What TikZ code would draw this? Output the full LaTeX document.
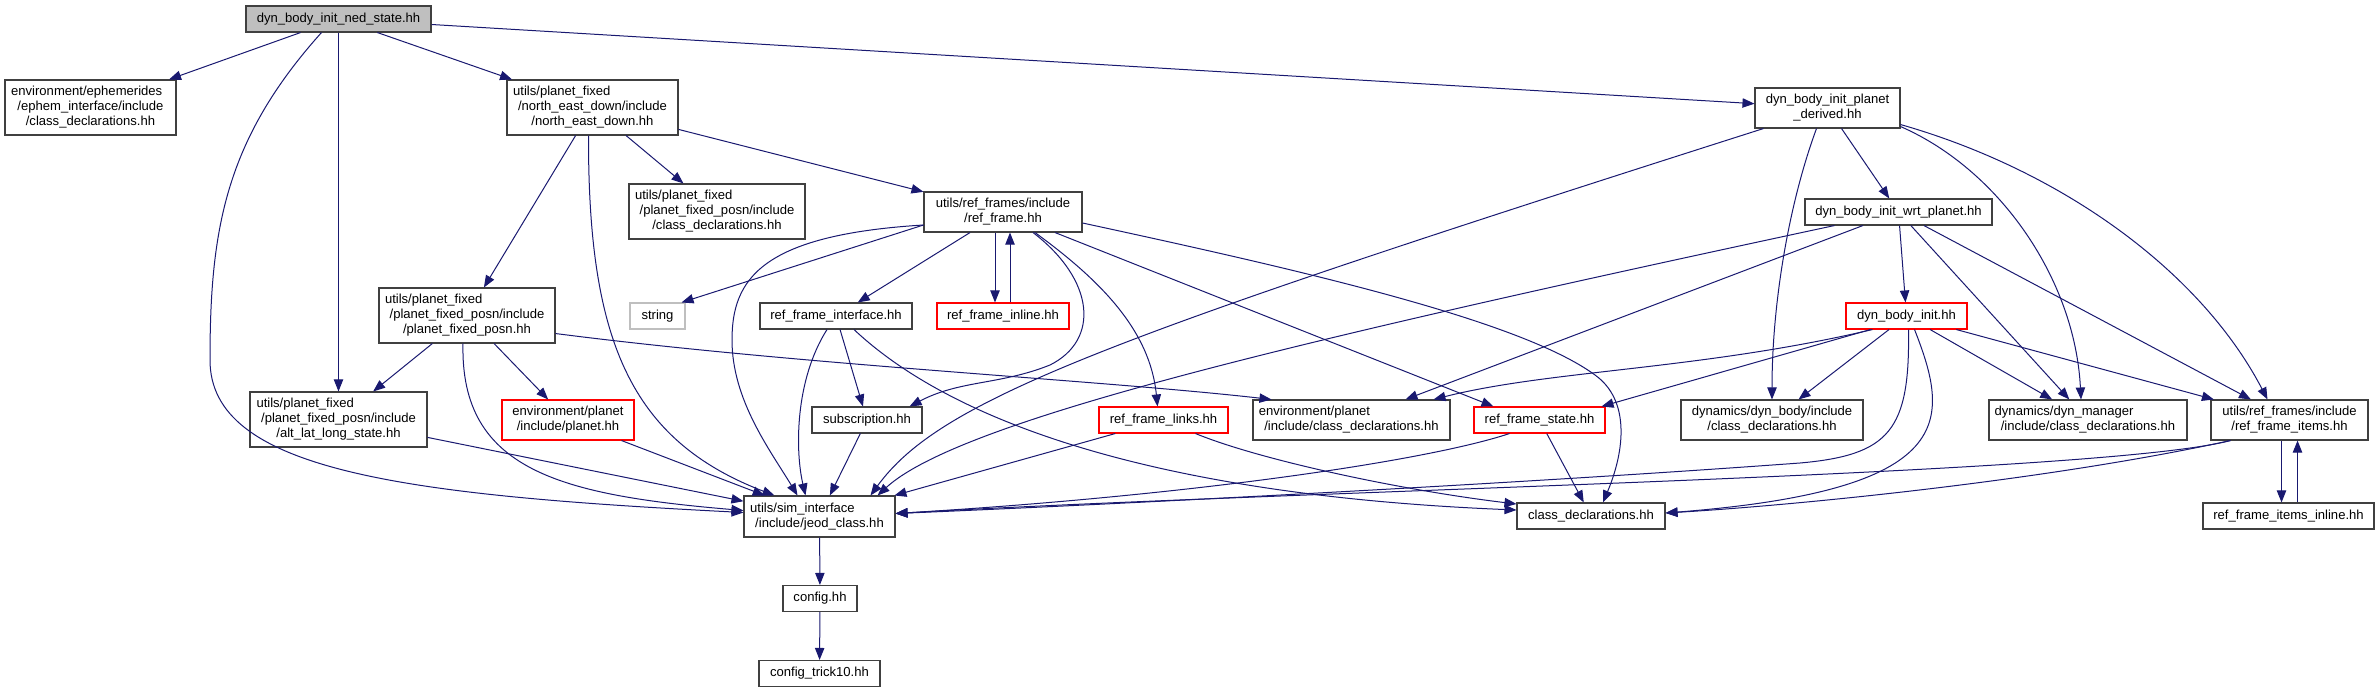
\documentclass[tikz,border=0pt]{standalone}
\usepackage{fontspec}
\setmainfont{Liberation Sans}
\usetikzlibrary{calc,arrows.meta}
\definecolor{edgeblue}{RGB}{25,25,112}
\definecolor{boxgray}{RGB}{64,64,64}
\newcommand{\firstln}[1]{\makebox[\linewidth][l]{#1}}

\begin{document}
\begin{tikzpicture}[x=0.75pt,y=-0.75pt,>={Triangle[length=9pt,width=7pt]},
  file/.style={draw=boxgray,fill=white,line width=0.8pt,inner sep=0pt,align=center,
    font=\fontsize{9.8pt}{11.25pt}\selectfont},
  redfile/.style={file,draw=red},
  sz/.style 2 args={minimum width=#1*0.75pt,minimum height=#2*0.75pt},
  edge/.style={->,edgeblue,line width=0.75pt}]
  \useasboundingbox (0,0) rectangle (2380,692);

  % files
  \node[file,fill=black!25,sz={185}{26}] (root) at (338.5,19) {dyn\_body\_init\_ned\_state.hh};
  \node[file,sz={171}{55},text width=119pt] (ephem) at (90.5,107.5)
    {\firstln{environment/ephemerides}\\/ephem\_interface/include\\/class\_declarations.hh};
  \node[file,sz={171}{55},text width=119pt] (ned) at (592.5,107.5)
    {\firstln{utils/planet\_fixed}\\/north\_east\_down/include\\/north\_east\_down.hh};
  \node[file,sz={176}{55},text width=123pt] (pfpcd) at (717,211.5)
    {\firstln{utils/planet\_fixed}\\/planet\_fixed\_posn/include\\/class\_declarations.hh};
  \node[file,sz={176}{55},text width=123pt] (pfpposn) at (467,315.5)
    {\firstln{utils/planet\_fixed}\\/planet\_fixed\_posn/include\\/planet\_fixed\_posn.hh};
  \node[file,draw=black!25,sz={55}{26}] (string) at (657.5,316) {string};
  \node[file,sz={152}{26}] (rfiface) at (836,316) {ref\_frame\_interface.hh};
  \node[file,sz={177}{55},text width=123pt] (altlat) at (338.5,419.5)
    {\firstln{utils/planet\_fixed}\\/planet\_fixed\_posn/include\\/alt\_lat\_long\_state.hh};
  \node[redfile,sz={132}{40}] (planet) at (568,420) {environment/planet\\/include/planet.hh};
  \node[file,sz={151}{41},text width=104pt] (jeod) at (819.5,516.5)
    {\firstln{utils/sim\_interface}\\/include/jeod\_class.hh};
  \node[file,sz={74}{26}] (config) at (820,598.5) {config.hh};
  \node[file,sz={121}{26}] (trick10) at (819.5,673.5) {config\_trick10.hh};
  \node[file,sz={158}{40}] (refframe) at (1003,212) {utils/ref\_frames/include\\/ref\_frame.hh};
  \node[redfile,sz={132}{26}] (rfinline) at (1003,316) {ref\_frame\_inline.hh};
  \node[file,sz={110}{26}] (subscr) at (867,420) {subscription.hh};
  \node[redfile,sz={129}{26}] (rflinks) at (1163.5,420) {ref\_frame\_links.hh};
  \node[file,sz={197}{40},text width=139pt] (envcd) at (1351.5,420)
    {\firstln{environment/planet}\\/include/class\_declarations.hh};
  \node[redfile,sz={131}{26}] (rfstate) at (1539.5,420) {ref\_frame\_state.hh};
  \node[file,sz={148}{26}] (classdecl) at (1591,516) {class\_declarations.hh};
  \node[file,sz={145}{40}] (dbipd) at (1827.5,108) {dyn\_body\_init\_planet\\\_derived.hh};
  \node[file,sz={187}{26}] (dbiwp) at (1898.5,212) {dyn\_body\_init\_wrt\_planet.hh};
  \node[redfile,sz={121}{26}] (dbi) at (1906.5,316) {dyn\_body\_init.hh};
  \node[file,sz={182}{40}] (dbcd) at (1772,420) {dynamics/dyn\_body/include\\/class\_declarations.hh};
  \node[file,sz={198}{40},text width=140pt] (dmcd) at (2088,420)
    {\firstln{dynamics/dyn\_manager}\\/include/class\_declarations.hh};
  \node[file,sz={157}{40}] (rfitems) at (2289.5,420) {utils/ref\_frames/include\\/ref\_frame\_items.hh};
  \node[file,sz={171}{26}] (rfiinline) at (2288.5,516) {ref\_frame\_items\_inline.hh};

  % straight includes
  \foreach \a/\b in {root/ephem,root/ned,root/altlat,root/dbipd,ned/pfpposn,ned/pfpcd,ned/refframe,
    pfpposn/altlat,pfpposn/planet,altlat/jeod,planet/jeod,refframe/rfiface,rfiface/subscr,
    subscr/jeod,rflinks/jeod,rfstate/classdecl,dbipd/dbiwp,dbiwp/envcd,dbiwp/dbi,dbiwp/dmcd,
    dbiwp/rfitems,dbi/dbcd,dbi/dmcd,dbi/rfitems,jeod/config,config/trick10}
    \draw[edge] (\a) -- (\b);

  % bent includes
  \draw[edge] ($(root.south)+(-17,0)$) .. controls (225,140) and (210,230) .. (210,360)
    .. controls (210,470) and (400,495) .. ($(jeod.west)+(0,-4)$);
  \draw[edge] ($(ned.south)+(-4,0)$) .. controls (588,340) and (630,440) .. ($(jeod.north west)+(31,0)$);
  \draw[edge] ($(pfpposn.south)+(-4,0)$) .. controls (460,470) and (560,495) .. ($(jeod.west)+(0,-6)$);
  \draw[edge] ($(pfpposn.south east)+(0,-10)$) .. controls (800,365) and (1100,380) .. ($(envcd.north west)+(19,0)$);
  \draw[edge] ($(refframe.south)+(-8,0)$) -- ($(rfinline.north)+(-8,0)$);
  \draw[edge] ($(rfinline.north)+(7,0)$) -- ($(refframe.south)+(7,0)$);
  \draw[edge] ($(refframe.west)+(0,13)$) -- ($(string.north east)+(-4,0)$);
  \draw[edge] ($(refframe.west)+(0,13)$) .. controls (760,235) and (732,280) .. (732,340)
    .. controls (732,400) and (770,450) .. ($(jeod.north)+(-22,0)$);
  \draw[edge] ($(refframe.south)+(30,0)$) .. controls (1095,280) and (1100,340) .. (1050,365)
    .. controls (1000,385) and (960,380) .. ($(subscr.north east)+(-13,0)$);
  \draw[edge] ($(refframe.south)+(32,0)$) .. controls (1100,280) and (1150,330) .. ($(rflinks.north)+(-6,0)$);
  \draw[edge] ($(refframe.south)+(52,0)$) -- ($(rfstate.north west)+(20,0)$);
  \draw[edge] ($(refframe.east)+(0,11)$) .. controls (1300,270) and (1520,320) .. (1595,375)
    .. controls (1630,400) and (1625,450) .. ($(classdecl.north)+(12,0)$);
  \draw[edge] ($(rfiface.south)+(-9,0)$) .. controls (795,380) and (795,450) .. ($(jeod.north)+(-14,0)$);
  \draw[edge] ($(rfiface.south)+(18,0)$) .. controls (950,420) and (1150,495) .. ($(classdecl.west)+(0,-6)$);
  \draw[edge] ($(rflinks.south)+(32,0)$) .. controls (1260,460) and (1400,490) .. ($(classdecl.west)+(0,-12)$);
  \draw[edge] ($(rfstate.south)+(-30,0)$) .. controls (1430,460) and (1200,495) .. ($(jeod.east)+(0,-3)$);
  \draw[edge] ($(dbipd.south west)+(9,0)$) .. controls (1100,340) and (940,400) .. ($(jeod.north east)+(-25,0)$);
  \draw[edge] ($(dbipd.south)+(-11,0)$) .. controls (1790,200) and (1772,300) .. (dbcd.north);
  \draw[edge] ($(dbipd.south east)+(0,-2)$) .. controls (2000,170) and (2075,280) .. ($(dmcd.north)+(-7,0)$);
  \draw[edge] ($(dbipd.south east)+(0,-4)$) .. controls (2060,170) and (2200,270) .. ($(rfitems.north)+(-22,0)$);
  \draw[edge] ($(dbiwp.south west)+(30,0)$) .. controls (1300,340) and (960,420) .. ($(jeod.north east)+(-18,0)$);
  \draw[edge] ($(dbi.south west)+(27,0)$) .. controls (1700,370) and (1550,370) .. ($(envcd.north east)+(-17,0)$);
  \draw[edge] ($(dbi.south west)+(25,0)$) -- ($(rfstate.north east)+(-4,0)$);
  \draw[edge] ($(dbi.south)+(2,0)$) .. controls (1910,430) and (1890,455) .. (1800,463)
    .. controls (1500,485) and (1100,505) .. ($(jeod.east)+(0,-3)$);
  \draw[edge] ($(dbi.south)+(8,0)$) .. controls (1950,420) and (1960,490) .. ($(classdecl.east)+(0,-3)$);
  \draw[edge] ($(rfitems.south west)+(20,0)$) .. controls (2100,475) and (1300,490) .. ($(jeod.east)+(0,-3)$);
  \draw[edge] ($(rfitems.south west)+(20,0)$) .. controls (2050,480) and (1800,505) .. ($(classdecl.east)+(0,-3)$);
  \draw[edge] ($(rfitems.south)+(-8,0)$) -- ($(rfiinline.north)+(-7,0)$);
  \draw[edge] ($(rfiinline.north)+(9,0)$) -- ($(rfitems.south)+(8,0)$);
\end{tikzpicture}
\end{document}
